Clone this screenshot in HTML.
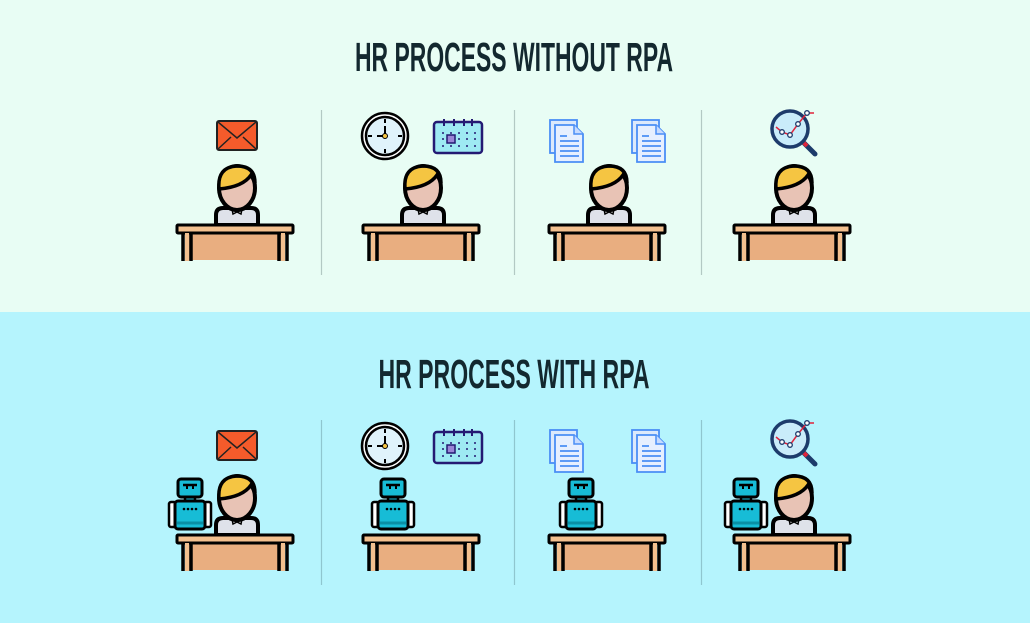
<!DOCTYPE html>
<html><head><meta charset="utf-8"><style>
html,body{margin:0;padding:0;width:1030px;height:623px;overflow:hidden}
</style></head><body>
<svg width="1030" height="623" viewBox="0 0 1030 623" xmlns="http://www.w3.org/2000/svg">
<defs>
<g id="person">
  <path d="M-21,0 L-21,-10 Q-21,-17 -14,-17 L14,-17 Q21,-17 21,-10 L21,0 Z" fill="#dfe2ea" stroke="#000" stroke-width="4"/>
  <path d="M-5,-16 L-4,-11 L0,-13 L4,-11 L5,-16" fill="#fff" stroke="#000" stroke-width="1.5"/>
  <ellipse cx="0" cy="-37" rx="18" ry="22" fill="#e8c3b5" stroke="#000" stroke-width="4"/>
  <path d="M-18,-36 Q-20,-58 0,-59 Q18,-59 18,-42 L14,-50 Q6,-38 -18,-36 Z" fill="#f5c542" stroke="#000" stroke-width="3.5"/>
</g>
<g id="desk">
  <rect x="-47" y="8" width="94" height="27" fill="#e9ae80"/>
  <rect x="-58" y="0" width="116" height="8" fill="#f3c08f" stroke="#000" stroke-width="3" rx="1"/>
  <line x1="-52" y1="8" x2="-52" y2="36" stroke="#000" stroke-width="3.5"/>
  <line x1="-44" y1="8" x2="-44" y2="36" stroke="#000" stroke-width="3.5"/>
  <line x1="44" y1="8" x2="44" y2="36" stroke="#000" stroke-width="3.5"/>
  <line x1="52" y1="8" x2="52" y2="36" stroke="#000" stroke-width="3.5"/>
  <rect x="-50" y="8" width="4" height="28" fill="#f3c08f"/>
  <rect x="46" y="8" width="4" height="28" fill="#f3c08f"/>
</g>
<g id="robot">
  <rect x="-21" y="-33" width="7" height="25" rx="2" fill="#fff" stroke="#000" stroke-width="2.5"/>
  <rect x="14" y="-33" width="7" height="25" rx="2" fill="#fff" stroke="#000" stroke-width="2.5"/>
  <rect x="-5" y="-39" width="10" height="7" fill="#17bcd6" stroke="#000" stroke-width="2.5"/>
  <rect x="-15" y="-34" width="30" height="28" rx="3" fill="#17bcd6" stroke="#000" stroke-width="3"/>
  <line x1="-13" y1="-12" x2="13" y2="-12" stroke="#0a8fa5" stroke-width="3"/>
  <circle cx="-6" cy="-26" r="1.3" fill="#000"/><circle cx="-2" cy="-26" r="1.3" fill="#000"/><circle cx="2" cy="-26" r="1.3" fill="#000"/><circle cx="6" cy="-26" r="1.3" fill="#000"/>
  <rect x="-12" y="-56" width="24" height="18" rx="3" fill="#17bcd6" stroke="#000" stroke-width="3"/>
  <line x1="-7" y1="-50" x2="7" y2="-50" stroke="#000" stroke-width="2.5"/>
  <line x1="-3" y1="-50" x2="-3" y2="-46" stroke="#000" stroke-width="2"/><line x1="3" y1="-50" x2="3" y2="-46" stroke="#000" stroke-width="2"/>
</g>
<g id="env">
  <rect x="0" y="0" width="40" height="29" rx="2" fill="#f55b2b" stroke="#222" stroke-width="2"/>
  <path d="M1,1 L20,17 L39,1 M1,28 L14,16 M39,28 L26,16" fill="none" stroke="#222" stroke-width="1.5"/>
</g>
<g id="clock">
  <circle cx="0" cy="0" r="23" fill="#fff" stroke="#000" stroke-width="2.5"/>
  <circle cx="0" cy="0" r="19" fill="#e0f3fb" stroke="#000" stroke-width="2.5"/>
  <path d="M0,-17 V-13 M0,17 V13 M-17,0 H-13 M17,0 H13 M0,0 V-10 M0,0 H-8" stroke="#000" stroke-width="2"/>
  <circle cx="0" cy="0" r="2.5" fill="#f5c542" stroke="#000"/>
</g>
<g id="cal">
  <rect x="0" y="3" width="48" height="31" rx="3" fill="#9eeaf3" stroke="#241a73" stroke-width="2.5"/>
  <path d="M10,0 V7 M20,0 V7 M30,0 V7 M38,0 V7" stroke="#241a73" stroke-width="2"/>
  <g fill="#241a73"><circle cx="9" cy="14" r="1"/><circle cx="17" cy="14" r="1"/><circle cx="25" cy="14" r="1"/><circle cx="33" cy="14" r="1"/><circle cx="41" cy="14" r="1"/>
  <circle cx="9" cy="20" r="1"/><circle cx="25" cy="20" r="1"/><circle cx="33" cy="20" r="1"/><circle cx="41" cy="20" r="1"/>
  <circle cx="9" cy="27" r="1"/><circle cx="17" cy="27" r="1"/><circle cx="25" cy="27" r="1"/><circle cx="33" cy="27" r="1"/><circle cx="41" cy="27" r="1"/></g>
  <rect x="13" y="16" width="8" height="8" fill="#9b86d6" stroke="#241a73" stroke-width="1.5"/>
</g>
<g id="doc">
  <rect x="0" y="0" width="27" height="33" fill="#dce9fb" stroke="#4a8ef5" stroke-width="1.8"/>
  <path d="M5,5 H24 L33,14 V42 H5 Z" fill="#e6efff" stroke="#4a8ef5" stroke-width="1.8"/>
  <path d="M24,5 V14 H33" fill="#c7dbff" stroke="#4a8ef5" stroke-width="1.5"/>
  <path d="M10,16 H17 M10,21 H29 M10,26 H29 M10,31 H29 M10,36 H29" stroke="#4a8ef5" stroke-width="1.8"/>
</g>
<g id="mag">
  <line x1="14" y1="14" x2="25" y2="25" stroke="#1d3b6b" stroke-width="5" stroke-linecap="round"/>
  <line x1="13" y1="13" x2="17" y2="17" stroke="#e0243b" stroke-width="4"/>
  <circle cx="0" cy="0" r="18" fill="#c9ecfa" stroke="#1d3b6b" stroke-width="3.5"/>
  <path d="M-14,-2 L-8,3 L0,6 L8,-5 L17,-16 L24,-16" fill="none" stroke="#e0243b" stroke-width="1.5"/>
  <g fill="#fff" stroke="#1d3b6b" stroke-width="1.3"><circle cx="-8" cy="3" r="2.3"/><circle cx="0" cy="6" r="2.3"/><circle cx="8" cy="-5" r="2.3"/><circle cx="17" cy="-16" r="2.3"/></g>
</g>
</defs>
<rect x="0" y="0" width="1030" height="312" fill="#e8fdf4"/>
<rect x="0" y="312" width="1030" height="311" fill="#b5f4fd"/>
<text x="514" y="71" text-anchor="middle" textLength="318" lengthAdjust="spacingAndGlyphs" font-family="Liberation Sans Narrow, Liberation Sans, sans-serif" font-weight="bold" font-size="41" fill="#13282f">HR PROCESS WITHOUT RPA</text>
<text x="514" y="388" text-anchor="middle" textLength="271" lengthAdjust="spacingAndGlyphs" font-family="Liberation Sans Narrow, Liberation Sans, sans-serif" font-weight="bold" font-size="41" fill="#13282f">HR PROCESS WITH RPA</text>
<g stroke="#b3c9c3" stroke-width="1.2">
<line x1="321.5" y1="110" x2="321.5" y2="275"/><line x1="514.5" y1="110" x2="514.5" y2="275"/><line x1="701.5" y1="110" x2="701.5" y2="275"/>
</g>
<g stroke="#8fc6cf" stroke-width="1.2">
<line x1="321.5" y1="420" x2="321.5" y2="585"/><line x1="514.5" y1="420" x2="514.5" y2="585"/><line x1="701.5" y1="420" x2="701.5" y2="585"/>
</g>
<use href="#env" x="217" y="121"/>
<use href="#clock" x="385" y="136"/>
<use href="#cal" x="434" y="119"/>
<use href="#doc" x="550" y="120"/>
<use href="#doc" x="632" y="120"/>
<use href="#mag" x="790" y="129"/>
<use href="#person" x="237" y="225"/><use href="#desk" x="235" y="225"/>
<use href="#person" x="423" y="225"/><use href="#desk" x="421" y="225"/>
<use href="#person" x="609" y="225"/><use href="#desk" x="607" y="225"/>
<use href="#person" x="794" y="225"/><use href="#desk" x="792" y="225"/>
<use href="#env" x="217" y="431"/>
<use href="#clock" x="385" y="446"/>
<use href="#cal" x="434" y="429"/>
<use href="#doc" x="550" y="430"/>
<use href="#doc" x="632" y="430"/>
<use href="#mag" x="790" y="439"/>
<use href="#robot" x="190" y="535"/>
<use href="#person" x="237" y="535"/><use href="#desk" x="235" y="535"/>
<use href="#robot" x="393" y="535"/><use href="#desk" x="421" y="535"/>
<use href="#robot" x="581" y="535"/><use href="#desk" x="607" y="535"/>
<use href="#robot" x="746" y="535"/>
<use href="#person" x="794" y="535"/><use href="#desk" x="792" y="535"/>
</svg>
</body></html>
